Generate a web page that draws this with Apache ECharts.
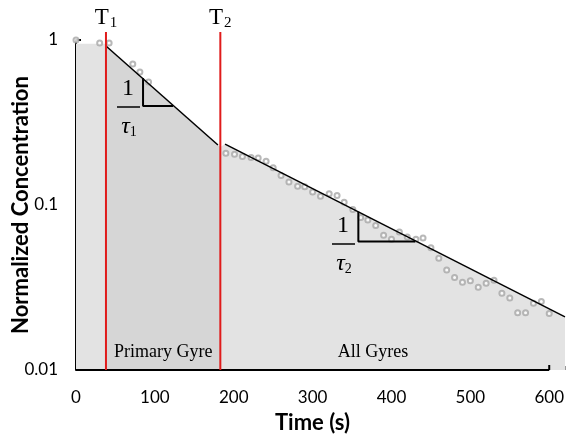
<!DOCTYPE html>
<html>
<head>
<meta charset="utf-8">
<script src="https://cdn.jsdelivr.net/npm/echarts@6/dist/echarts.min.js"></script>
<style>
  html, body { margin: 0; padding: 0; background: #fff; }
  #chart { width: 566px; height: 435px; }
</style>
</head>
<body>
<div id="chart"></div>
<script>
// measured concentration (hollow circles)
var obsTime = [0, 30, 42, 72, 81, 92,
  190, 201, 211, 222, 231, 241, 250, 260, 270, 281, 290, 300, 310, 321, 331, 340,
  351, 361, 370, 380, 390, 400, 410, 420, 431, 440, 450, 460, 470, 480, 490, 500,
  510, 520, 530, 540, 550, 560, 570, 580, 590, 600]
var obsConc = [1.0, 0.96, 0.96, 0.716, 0.64, 0.556,
  0.206, 0.203, 0.197, 0.194, 0.193, 0.184, 0.168, 0.151, 0.138, 0.130, 0.129, 0.120, 0.113, 0.117, 0.114, 0.104,
  0.094, 0.084, 0.081, 0.075, 0.0655, 0.062, 0.0686, 0.064, 0.062, 0.063, 0.055, 0.0475, 0.0404, 0.0363, 0.034, 0.0348,
  0.0317, 0.0335, 0.035, 0.0292, 0.0273, 0.0222, 0.0222, 0.0254, 0.026, 0.022]

// fitted exponential segments
var fit1 = [[38, 0.92], [180, 0.231]]
var fit2 = [[189, 0.234], [620, 0.021]]

// shaded regions under the fit
var fillStart = [[0, 0.95], [38, 0.95]]
var fillPrimary = [[38, 0.92], [183, 0.225]]
var fillAll = [[183, 0.225], [189, 0.234], [620, 0.021]]

// slope triangles
var tri1 = [[85, 0.588], [85, 0.398], [123, 0.398]]
var tri2 = [[358, 0.091], [358, 0.060], [430, 0.060]]

// region boundaries
var T1 = 38
var T2 = 183

var xTicks = [0, 100, 200, 300, 400, 500, 600]

var serif = '"Liberation Serif", "DejaVu Serif", serif'
var sans = 'Lato, "Open Sans", sans-serif'

var myChart = echarts.init(document.getElementById('chart'))

function fillSeries(data, color) {
  return {
    type: 'line',
    data: data,
    symbol: 'none',
    silent: true,
    lineStyle: { width: 0 },
    areaStyle: { color: color, opacity: 1, origin: 'start' },
    z: 1
  }
}

function blackLine(data, width) {
  return {
    type: 'line',
    data: data,
    symbol: 'none',
    silent: true,
    lineStyle: { color: '#000', width: width },
    z: 4
  }
}

var option = {
  animation: false,
  grid: { left: 76, top: 40, right: 1, bottom: 65, containLabel: false, outerBoundsMode: 'none' },
  xAxis: {
    type: 'value',
    min: 0,
    max: 620,
    interval: 100,
    name: 'Time (s)',
    nameLocation: 'middle',
    nameGap: 42,
    nameMoveOverlap: false,
    nameTextStyle: { fontFamily: sans, fontWeight: 'bold', fontSize: 22, color: '#000', verticalAlign: 'top', padding: [0, 16, 0, 0] },
    axisLine: { show: false },
    axisTick: { show: true, inside: true, length: 4, lineStyle: { color: '#999' } },
    splitLine: { show: false },
    axisLabel: {
      fontFamily: sans, fontSize: 17, color: '#000', margin: 19,
      formatter: function (v) { return xTicks.indexOf(v) >= 0 ? String(v) : '' }
    }
  },
  yAxis: {
    type: 'log',
    logBase: 10,
    min: 0.01,
    max: 1,
    name: 'Normalized Concentration',
    nameLocation: 'middle',
    nameGap: 44,
    nameMoveOverlap: false,
    nameTextStyle: { fontFamily: sans, fontWeight: 'bold', fontSize: 22, color: '#000' },
    axisLine: { show: true, lineStyle: { color: '#000', width: 2 } },
    axisTick: { show: true, inside: true, length: 5, lineStyle: { color: '#000', width: 2 } },
    minorTick: { show: false },
    splitLine: { show: false },
    axisLabel: {
      fontFamily: sans, fontSize: 17, color: '#000', margin: 18,
      formatter: function (v) { return String(+v.toPrecision(2)) }
    }
  },
  series: [
    fillSeries(fillStart, '#e3e3e3'),
    fillSeries(fillPrimary, '#d6d6d6'),
    fillSeries(fillAll, '#e3e3e3'),
    {
      type: 'scatter',
      data: obsTime.map(function (t, i) { return [t, obsConc[i]] }),
      symbol: 'emptyCircle',
      symbolSize: 5,
      silent: true,
      itemStyle: { color: '#a6a6a6', borderWidth: 0.8 },
      z: 3
    },
    blackLine(fit1, 1.5),
    blackLine(fit2, 1.5),
    blackLine(tri1, 2),
    blackLine(tri2, 2),
    {
      type: 'line',
      data: [],
      silent: true,
      markLine: {
        silent: true,
        symbol: 'none',
        label: { show: false },
        lineStyle: { color: '#000', width: 2, type: 'solid' },
        data: [[{ coord: [0, 0.01] }, { coord: [600, 0.01] }]]
      },
      z: 5
    }
  ]
}
myChart.setOption(option)

// red region boundaries, labels and slope annotations placed from data coords
var bottom = myChart.convertToPixel({ gridIndex: 0 }, [0, 0.01])[1]
var xT1 = myChart.convertToPixel({ gridIndex: 0 }, [T1, 1])[0]
var xT2 = myChart.convertToPixel({ gridIndex: 0 }, [T2, 1])[0]
var tickEnd = myChart.convertToPixel({ gridIndex: 0 }, [600, 0.01])

function tLabel(x, sub) {
  return {
    type: 'text', x: x, y: 18, z: 20,
    style: {
      text: '{t|T}{s|' + sub + '}', align: 'center', verticalAlign: 'middle',
      rich: {
        t: { fontFamily: serif, fontSize: 23, fill: '#000' },
        s: { fontFamily: serif, fontSize: 15, fill: '#000', padding: [10, 0, 0, 1] }
      }
    }
  }
}

function fraction(cx, yOne, sub) {
  return [
    { type: 'text', x: cx, y: yOne, z: 20, style: { text: '1', fontFamily: serif, fontSize: 24, fill: '#000', align: 'center', verticalAlign: 'middle' } },
    { type: 'line', z: 20, shape: { x1: cx - 11, y1: yOne + 18, x2: cx + 12, y2: yOne + 18 }, style: { stroke: '#000', lineWidth: 1.5 } },
    {
      type: 'text', x: cx + 1, y: yOne + 38, z: 20,
      style: {
        text: '{t|τ}{s|' + sub + '}', align: 'center', verticalAlign: 'middle',
        rich: {
          t: { fontFamily: serif, fontStyle: 'italic', fontSize: 24, fill: '#000' },
          s: { fontFamily: serif, fontSize: 14, fill: '#000', padding: [10, 0, 0, 0] }
        }
      }
    }
  ]
}

myChart.setOption({
  graphic: [
    { type: 'line', z: 10, shape: { x1: xT1, y1: 32, x2: xT1, y2: bottom }, style: { stroke: '#e01b1b', lineWidth: 2 } },
    { type: 'line', z: 10, shape: { x1: xT2, y1: 32, x2: xT2, y2: bottom }, style: { stroke: '#e01b1b', lineWidth: 2 } },
    { type: 'line', z: 10, shape: { x1: tickEnd[0], y1: tickEnd[1], x2: tickEnd[0], y2: tickEnd[1] - 5 }, style: { stroke: '#000', lineWidth: 2 } },
    tLabel(xT1, '1'),
    tLabel(xT2, '2'),
    { type: 'text', x: (xT1 + xT2) / 2, y: 352, z: 20, style: { text: 'Primary Gyre', fontFamily: serif, fontSize: 18, fill: '#000', align: 'center', verticalAlign: 'middle' } },
    { type: 'text', x: 373, y: 352, z: 20, style: { text: 'All Gyres', fontFamily: serif, fontSize: 18, fill: '#000', align: 'center', verticalAlign: 'middle' } }
  ].concat(fraction(128, 89, '1')).concat(fraction(343, 226, '2'))
})
</script>
</body>
</html>
